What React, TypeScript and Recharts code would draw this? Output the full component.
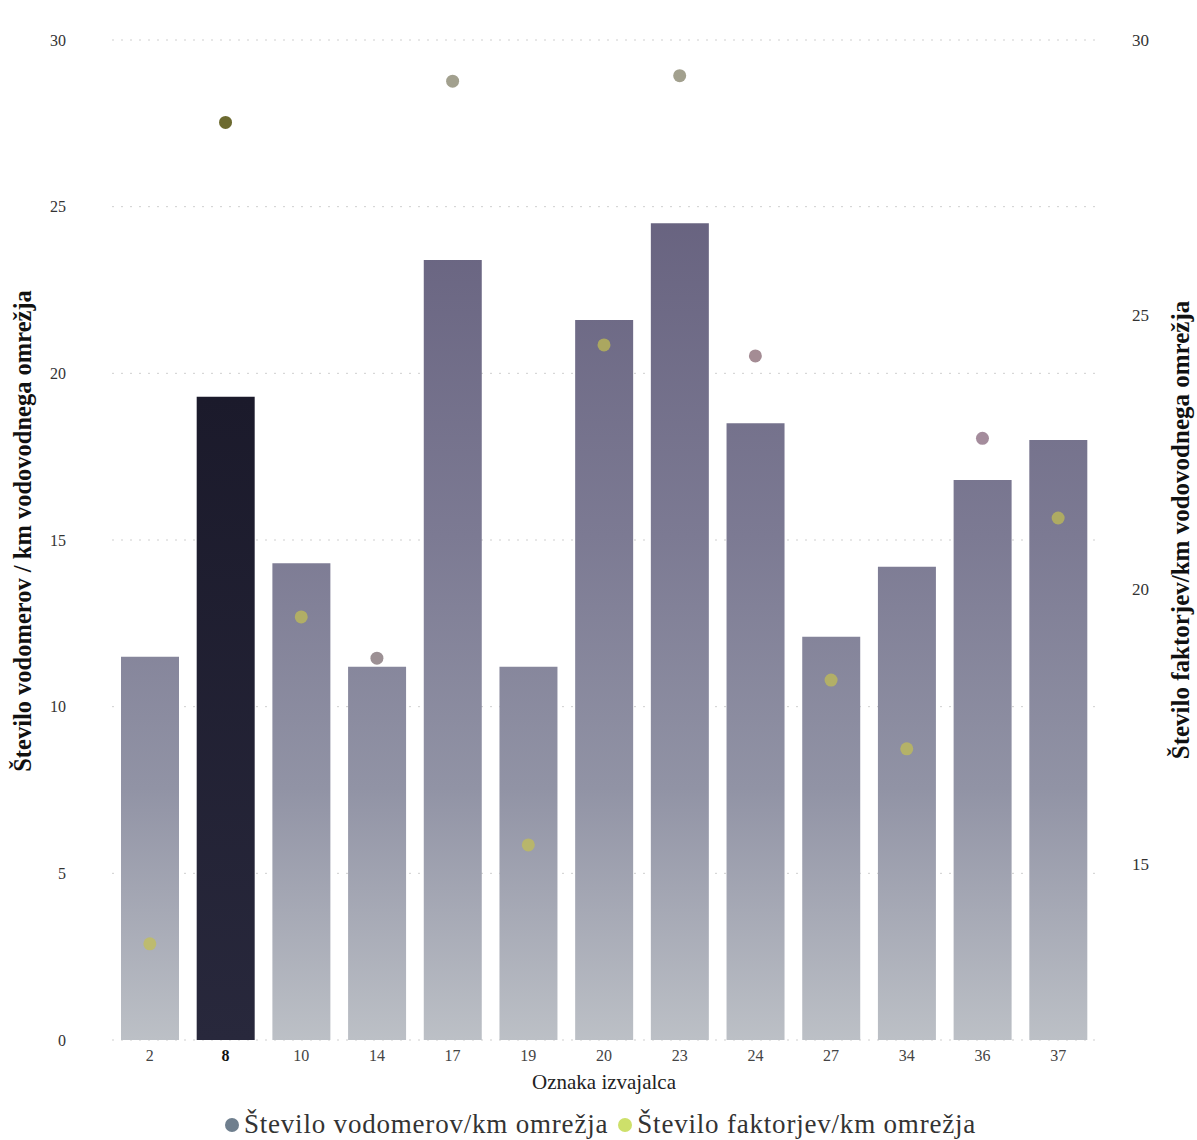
import React from "react";
import {
  ComposedChart,
  Bar,
  Line,
  XAxis,
  YAxis,
  CartesianGrid,
  Legend,
  Cell,
} from "recharts";

const categories = ["2", "8", "10", "14", "17", "19", "20", "23", "24", "27", "34", "36", "37"];
const vodomeri = [11.5, 19.3, 14.3, 11.2, 23.4, 11.2, 21.6, 24.5, 18.5, 12.1, 14.2, 16.8, 18.0];
const faktorji = [13.55, 28.5, 19.5, 18.75, 29.25, 15.35, 24.45, 29.35, 24.25, 18.35, 17.1, 22.75, 21.3];
const leftTicks = [0, 5, 10, 15, 20, 25, 30];
const rightTicks = [15, 20, 25, 30];
const highlighted = "8";

const INSIDE = "#c4c050";
const dotColors = [
  INSIDE, "#6c6a30", INSIDE, "#9c9094", "#a2a08e", INSIDE, INSIDE,
  "#a2a08e", "#a48c94", INSIDE, INSIDE, "#a48c9c", INSIDE,
];

const data = categories.map((c, i) => ({
  name: c,
  vodomeri: vodomeri[i],
  faktorji: faktorji[i],
}));

const FONT = '"Liberation Serif", "DejaVu Serif", serif';

const XTick = (props: any) => {
  const { x, y, payload } = props;
  const bold = payload.value === highlighted;
  return (
    <text
      x={x}
      y={y}
      dy="0.8em"
      textAnchor="middle"
      fontFamily={FONT}
      fontSize={16}
      fontWeight={bold ? 700 : 400}
      fill={bold ? "#111" : "#444"}
    >
      {payload.value}
    </text>
  );
};

const Dot = (props: any) => {
  const { cx, cy, index } = props;
  if (cx == null || cy == null) return null;
  const inside = dotColors[index] === INSIDE;
  return (
    <circle
      key={`dot-${index}`}
      cx={cx}
      cy={cy}
      r={6.5}
      fill={dotColors[index]}
      fillOpacity={inside ? 0.7 : 1}
      stroke="none"
    />
  );
};

const LeftTitle = (props: any) => {
  const vb = props.viewBox || {};
  const cx = (vb.x || 0) + 22;
  const cy = (vb.y || 0) + (vb.height || 0) / 2 - 9;
  return (
    <text
      x={cx}
      y={cy}
      transform={`rotate(-90, ${cx}, ${cy})`}
      textAnchor="middle"
      dominantBaseline="central"
      fontFamily={FONT}
      fontSize={24.5}
      fontWeight={700}
      fill="#111"
    >
      Število vodomerov / km vodovodnega omrežja
    </text>
  );
};

const RightTitle = (props: any) => {
  const vb = props.viewBox || {};
  const cx = (vb.x || 0) + (vb.width || 0) - 17;
  const cy = (vb.y || 0) + (vb.height || 0) / 2 - 10;
  return (
    <text
      x={cx}
      y={cy}
      transform={`rotate(-90, ${cx}, ${cy})`}
      textAnchor="middle"
      dominantBaseline="central"
      fontFamily={FONT}
      fontSize={25}
      fontWeight={700}
      fill="#111"
    >
      Število faktorjev/km vodovodnega omrežja
    </text>
  );
};

const XTitle = (props: any) => {
  const vb = props.viewBox || {};
  const cx = (vb.x || 0) + (vb.width || 0) / 2;
  const cy = (vb.y || 0) + 42;
  return (
    <text
      x={cx}
      y={cy}
      textAnchor="middle"
      dominantBaseline="central"
      fontFamily={FONT}
      fontSize={21}
      fill="#222"
    >
      Oznaka izvajalca
    </text>
  );
};

const LegendContent = () => (
  <div
    style={{
      display: "flex",
      justifyContent: "center",
      alignItems: "center",
      fontFamily: FONT,
      fontSize: 27,
      letterSpacing: 0.8,
      color: "#333",
      gap: 10,
      paddingTop: 4,
      paddingLeft: 4,
    }}
  >
    <span style={{ display: "flex", alignItems: "center" }}>
      <span
        style={{
          width: 14,
          height: 14,
          borderRadius: "50%",
          background: "#6f7f8e",
          display: "inline-block",
          marginRight: 5,
        }}
      />
      Število vodomerov/km omrežja
    </span>
    <span style={{ display: "flex", alignItems: "center" }}>
      <span
        style={{
          width: 14,
          height: 14,
          borderRadius: "50%",
          background: "#cde06a",
          display: "inline-block",
          marginRight: 5,
        }}
      />
      Število faktorjev/km omrežja
    </span>
  </div>
);

export default function App() {
  return (
    <div style={{ position: "absolute", left: 0, top: 0, background: "#fff" }}>
      <ComposedChart
        width={1197}
        height={1140}
        data={data}
        margin={{ top: 40, right: 0, bottom: 0, left: 0 }}
      >
        <defs>
          <linearGradient id="barGrad" gradientUnits="userSpaceOnUse" x1="0" y1="200" x2="0" y2="1040">
            <stop offset="0%" stopColor="#67627f" />
            <stop offset="40%" stopColor="#7c7a93" />
            <stop offset="70%" stopColor="#9193a5" />
            <stop offset="100%" stopColor="#bcc0c6" />
          </linearGradient>
          <linearGradient id="barGradDark" x1="0" y1="0" x2="0" y2="1">
            <stop offset="0%" stopColor="#1b1a2b" />
            <stop offset="100%" stopColor="#28283c" />
          </linearGradient>
        </defs>
        <CartesianGrid
          vertical={false}
          yAxisId="left"
          stroke="#cfcfcf"
          strokeDasharray="2 7"
        />
        <XAxis
          dataKey="name"
          height={65}
          axisLine={false}
          tickLine={false}
          tickSize={0}
          tickMargin={8}
          tick={<XTick />}
          interval={0}
          label={<XTitle />}
        />
        <YAxis
          yAxisId="left"
          domain={[0, 30]}
          ticks={leftTicks}
          width={112}
          axisLine={false}
          tickLine={false}
          tickSize={0}
          tickMargin={46}
          tick={{ fontFamily: FONT, fontSize: 16, fill: "#333" }}
          label={<LeftTitle />}
        />
        <YAxis
          yAxisId="right"
          orientation="right"
          domain={[11.8, 30]}
          ticks={rightTicks}
          allowDataOverflow
          width={101}
          axisLine={false}
          tickLine={false}
          tickSize={0}
          tickMargin={36}
          tick={{ fontFamily: FONT, fontSize: 17, fill: "#333" }}
          label={<RightTitle />}
        />
        <Bar
          yAxisId="left"
          dataKey="vodomeri"
          barSize={58}
          isAnimationActive={false}
          fill="url(#barGrad)"
        >
          {data.map((d, i) => (
            <Cell
              key={`c-${i}`}
              fill={d.name === highlighted ? "url(#barGradDark)" : "url(#barGrad)"}
            />
          ))}
        </Bar>
        <Line
          yAxisId="right"
          dataKey="faktorji"
          stroke="none"
          strokeWidth={0}
          dot={<Dot />}
          activeDot={false}
          isAnimationActive={false}
        />
        <Legend verticalAlign="bottom" height={35} content={<LegendContent />} />
      </ComposedChart>
    </div>
  );
}
